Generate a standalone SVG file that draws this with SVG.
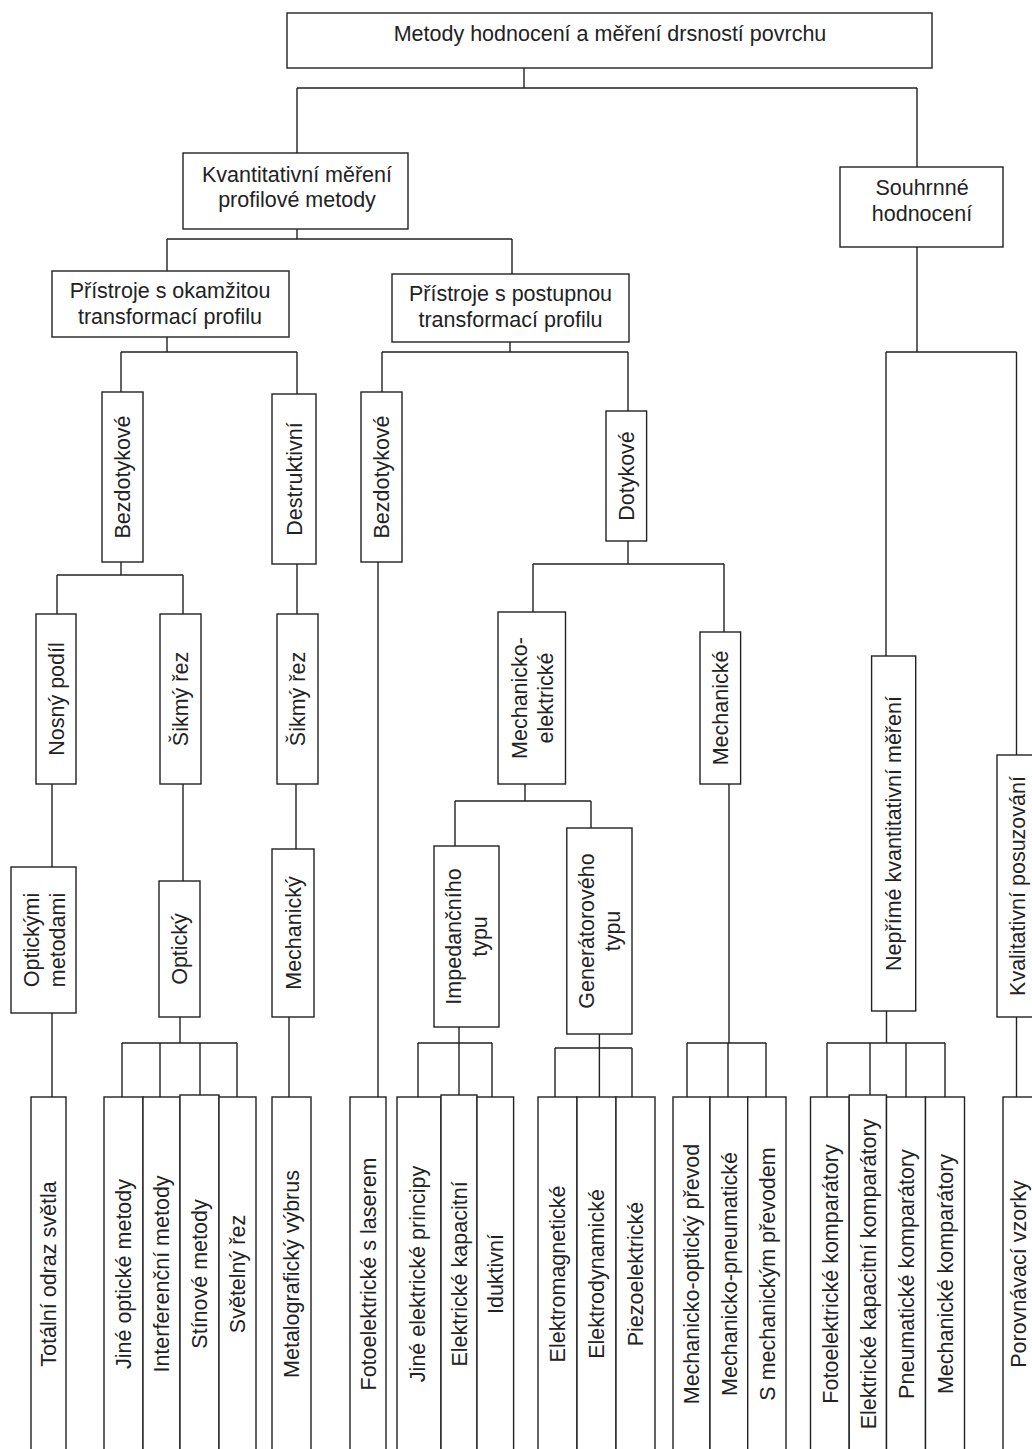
<svg xmlns="http://www.w3.org/2000/svg" width="1032" height="1449" viewBox="0 0 1032 1449">
<style>
.b{fill:#fff;stroke:#222;stroke-width:1.4}
.t{font-family:"Liberation Sans",Arial,sans-serif;font-size:21.5px;fill:#222;text-anchor:middle}
.c{fill:none;stroke:#222;stroke-width:1.4}
</style>
<rect width="1032" height="1449" fill="#fff"/>
<g id="connectors" class="c">
<path d="M524 68V88M297 88H917M297 88V153M917 88V167"/>
<path d="M297 229V239M167 239H512M167 239V271M512 239V274"/>
<path d="M167 337V352M121 352H297M121 352V392M297 352V394"/>
<path d="M510 342V352M382 352H628M382 352V392M628 352V411"/>
<path d="M917 247V352M886 352H1016.5M886 352V656M1016.5 352V755"/>
<path d="M121 562V575M57 575H183M57 575V614M183 575V614"/>
<path d="M297 564V614"/>
<path d="M378 562V1097"/>
<path d="M628 541V564M533 564H724M533 564V612M724 564V632"/>
<path d="M52 784V867M52 1013V1097"/>
<path d="M183 784V881"/>
<path d="M180 1017V1043M122 1043H237M122 1043V1097M160 1043V1097M200 1043V1095M237 1043V1097"/>
<path d="M296 784V849"/>
<path d="M289 1017V1097"/>
<path d="M525 784V801M455 801H591M455 801V846M591 801V828"/>
<path d="M459 1027V1043M418 1043H492M418 1043V1097M459 1043V1095M492 1043V1097"/>
<path d="M599.4 1034V1048M555 1048H632M555 1048V1097M599.4 1048V1097M632 1048V1097"/>
<path d="M729 784V1043M687 1043H766M687 1043V1097M728 1043V1097M766 1043V1097"/>
<path d="M886.5 1011V1043M827 1043H945M827 1043V1097M870 1043V1097M906 1043V1097M945 1043V1097"/>
<path d="M1016.5 1017V1097"/>
</g>
<g id="n-root"><rect class="b" x="287" y="13" width="645" height="55"/><text class="t" x="610" y="41">Metody hodnocení a měření drsností povrchu</text></g>
<g id="n-kvant"><rect class="b" x="183" y="153" width="225" height="76"/><text class="t" x="297" y="182">Kvantitativní měření</text><text class="t" x="297" y="207">profilové metody</text></g>
<g id="n-souhrn"><rect class="b" x="840" y="167" width="163" height="80"/><text class="t" x="922" y="195">Souhrnné</text><text class="t" x="922" y="221">hodnocení</text></g>
<g id="n-okamz"><rect class="b" x="52" y="271" width="237" height="66"/><text class="t" x="170" y="298">Přístroje s okamžitou</text><text class="t" x="170" y="323.5">transformací profilu</text></g>
<g id="n-postup"><rect class="b" x="392" y="274" width="237" height="68"/><text class="t" x="510.5" y="301">Přístroje s postupnou</text><text class="t" x="510.5" y="326.5">transformací profilu</text></g>
<g id="n-bezdot1"><rect class="b" x="102" y="392" width="41" height="170"/><text class="t" transform="translate(122.5,477) rotate(-90)" y="7.7">Bezdotykové</text></g>
<g id="n-destr"><rect class="b" x="272" y="394" width="44" height="170"/><text class="t" transform="translate(294,479) rotate(-90)" y="7.7">Destruktivní</text></g>
<g id="n-bezdot2"><rect class="b" x="361" y="392" width="41" height="170"/><text class="t" transform="translate(381.5,477) rotate(-90)" y="7.7">Bezdotykové</text></g>
<g id="n-dotyk"><rect class="b" x="606" y="411" width="40.6" height="130"/><text class="t" transform="translate(626,476) rotate(-90)" y="7.7">Dotykové</text></g>
<g id="n-nosny"><rect class="b" x="36" y="614" width="40" height="170"/><text class="t" transform="translate(56,699) rotate(-90)" y="7.7">Nosný podíl</text></g>
<g id="n-sikmy1"><rect class="b" x="160" y="614" width="41" height="170"/><text class="t" transform="translate(180.5,699) rotate(-90)" y="7.7">Šikmý řez</text></g>
<g id="n-sikmy2"><rect class="b" x="277" y="614" width="41" height="170"/><text class="t" transform="translate(297.5,699) rotate(-90)" y="7.7">Šikmý řez</text></g>
<g id="n-mechel"><rect class="b" x="498" y="612" width="67.5" height="172"/><text class="t" transform="translate(532,698) rotate(-90)"><tspan x="0" y="-5.3">Mechanicko-</tspan><tspan x="0" y="20.7">elektrické</tspan></text></g>
<g id="n-mechan"><rect class="b" x="700" y="632" width="40.6" height="152"/><text class="t" transform="translate(720.3,708) rotate(-90)" y="7.7">Mechanické</text></g>
<g id="n-neprime"><rect class="b" x="871.6" y="656" width="44.1" height="355"/><text class="t" transform="translate(893.6,833.5) rotate(-90)" y="7.7">Nepřímé kvantitativní měření</text></g>
<g id="n-kvalit"><rect class="b" x="997" y="755" width="42" height="262"/><text class="t" transform="translate(1017,886) rotate(-90)" y="7.7">Kvalitativní posuzování</text></g>
<g id="n-optmet"><rect class="b" x="11" y="867" width="65" height="146"/><text class="t" transform="translate(44,940) rotate(-90)"><tspan x="0" y="-5.3">Optickými</tspan><tspan x="0" y="20.7">metodami</tspan></text></g>
<g id="n-opticky"><rect class="b" x="159" y="881" width="41" height="136"/><text class="t" transform="translate(179.5,949) rotate(-90)" y="7.7">Optický</text></g>
<g id="n-mechanicky"><rect class="b" x="272" y="849" width="42" height="168"/><text class="t" transform="translate(293,933) rotate(-90)" y="7.7">Mechanický</text></g>
<g id="n-imped"><rect class="b" x="434" y="846" width="65" height="181"/><text class="t" transform="translate(466.5,936.5) rotate(-90)"><tspan x="0" y="-5.3">Impedančního</tspan><tspan x="0" y="20.7">typu</tspan></text></g>
<g id="n-gener"><rect class="b" x="566.8" y="828" width="65.2" height="206"/><text class="t" transform="translate(599.4,931) rotate(-90)"><tspan x="0" y="-5.3">Generátorového</tspan><tspan x="0" y="20.7">typu</tspan></text></g>
<g id="n-l1"><rect class="b" x="31" y="1097" width="35" height="360"/><text class="t" transform="translate(48.5,1274) rotate(-90)" y="7.7">Totální odraz světla</text></g>
<g id="n-l2"><rect class="b" x="104" y="1097" width="39" height="360"/><text class="t" transform="translate(123.5,1274) rotate(-90)" y="7.7">Jiné optické metody</text></g>
<g id="n-l3"><rect class="b" x="143" y="1097" width="37" height="360"/><text class="t" transform="translate(161.5,1274) rotate(-90)" y="7.7">Interferenční metody</text></g>
<g id="n-l4"><rect class="b" x="180" y="1095" width="39" height="362"/><text class="t" transform="translate(199.5,1274) rotate(-90)" y="7.7">Stínové metody</text></g>
<g id="n-l5"><rect class="b" x="219" y="1097" width="37" height="360"/><text class="t" transform="translate(237.5,1274) rotate(-90)" y="7.7">Světelný řez</text></g>
<g id="n-l6"><rect class="b" x="272" y="1097" width="39" height="360"/><text class="t" transform="translate(291.5,1274) rotate(-90)" y="7.7">Metalografický výbrus</text></g>
<g id="n-l7"><rect class="b" x="350" y="1097" width="36" height="360"/><text class="t" transform="translate(368,1274) rotate(-90)" y="7.7">Fotoelektrické s laserem</text></g>
<g id="n-l8"><rect class="b" x="397" y="1097" width="44" height="360"/><text class="t" transform="translate(417,1274) rotate(-90)" y="7.7">Jiné elektrické principy</text></g>
<g id="n-l9"><rect class="b" x="441" y="1095" width="36" height="362"/><text class="t" transform="translate(459,1274) rotate(-90)" y="7.7">Elektrické kapacitní</text></g>
<g id="n-l10"><rect class="b" x="477" y="1097" width="36.6" height="360"/><text class="t" transform="translate(495,1274) rotate(-90)" y="7.7">Iduktivní</text></g>
<g id="n-l11"><rect class="b" x="538" y="1097" width="39" height="360"/><text class="t" transform="translate(557.5,1274) rotate(-90)" y="7.7">Elektromagnetické</text></g>
<g id="n-l12"><rect class="b" x="577" y="1097" width="39" height="360"/><text class="t" transform="translate(596.5,1274) rotate(-90)" y="7.7">Elektrodynamické</text></g>
<g id="n-l13"><rect class="b" x="616" y="1097" width="39" height="360"/><text class="t" transform="translate(635.5,1274) rotate(-90)" y="7.7">Piezoelektrické</text></g>
<g id="n-l14"><rect class="b" x="673" y="1097" width="37" height="360"/><text class="t" transform="translate(691.5,1274) rotate(-90)" y="7.7">Mechanicko-optický převod</text></g>
<g id="n-l15"><rect class="b" x="710" y="1097" width="37.7" height="360"/><text class="t" transform="translate(729,1274) rotate(-90)" y="7.7">Mechanicko-pneumatické</text></g>
<g id="n-l16"><rect class="b" x="747.7" y="1097" width="38.3" height="360"/><text class="t" transform="translate(767,1274) rotate(-90)" y="7.7">S mechanickým převodem</text></g>
<g id="n-l17"><rect class="b" x="810.5" y="1097" width="38.7" height="360"/><text class="t" transform="translate(830,1274) rotate(-90)" y="7.7">Fotoelektrické komparátory</text></g>
<g id="n-l18"><rect class="b" x="849.2" y="1095" width="37.3" height="362"/><text class="t" transform="translate(868,1274) rotate(-90)" y="7.7">Elektrické kapacitní komparátory</text></g>
<g id="n-l19"><rect class="b" x="886.5" y="1097" width="39" height="360"/><text class="t" transform="translate(906,1274) rotate(-90)" y="7.7">Pneumatické komparátory</text></g>
<g id="n-l20"><rect class="b" x="925.5" y="1097" width="39" height="360"/><text class="t" transform="translate(945,1274) rotate(-90)" y="7.7">Mechanické komparátory</text></g>
<g id="n-l21"><rect class="b" x="1003" y="1097" width="39" height="360"/><text class="t" transform="translate(1018.5,1274) rotate(-90)" y="7.7">Porovnávací vzorky</text></g>
</svg>
